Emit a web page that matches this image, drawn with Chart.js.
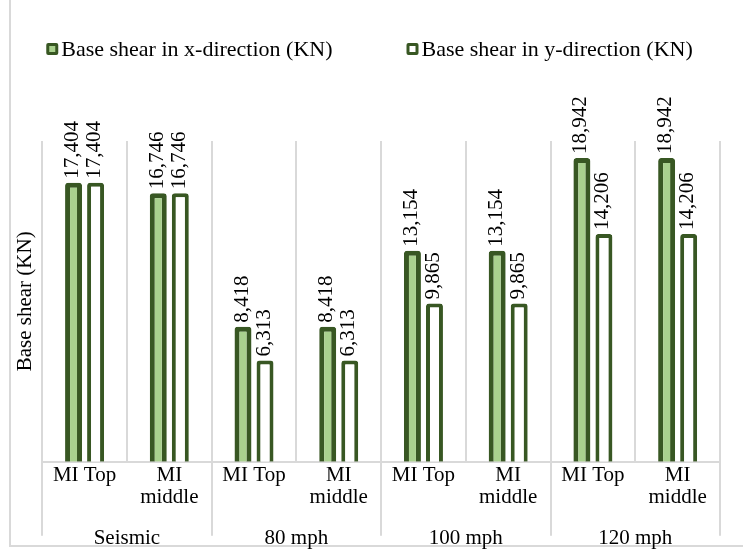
<!DOCTYPE html>
<html>
<head>
<meta charset="utf-8">
<script src="https://cdn.jsdelivr.net/npm/chart.js@4.4.1/dist/chart.umd.min.js"></script>
<style>
	html,body{margin:0;padding:0;background:#fff;}
	#wrap{position:relative;width:743px;height:549px;overflow:hidden;}
	#frame{position:absolute;left:9px;top:-4px;width:800px;height:549px;border-left:2px solid #d9d9d9;border-bottom:2px solid #d9d9d9;}
	canvas{position:absolute;left:0;top:0;}
</style>
</head>
<body>
<div id="wrap">
	<div id="frame"></div>
	<canvas id="chart" width="743" height="549"></canvas>
</div>
<script>
	// data
	var subLabels = ["MI Top", ["MI", "middle"], "MI Top", ["MI", "middle"], "MI Top", ["MI", "middle"], "MI Top", ["MI", "middle"]];
	var groupLabels = ["Seismic", "80 mph", "100 mph", "120 mph"];
	var shearX = [17404, 16746, 8418, 8418, 13154, 13154, 18942, 18942];
	var shearY = [17404, 16746, 6313, 6313, 9865, 9865, 14206, 14206];
	var seriesNames = ["Base shear in x-direction (KN)", "Base shear in y-direction (KN)"];

	var darkGreen = "#385723";
	var lightGreen = "#a9d18e";
	var gridGray = "#d9d9d9";
	var serif = "'Liberation Serif', 'Times New Roman', serif";

	Chart.defaults.font.family = serif;
	Chart.defaults.color = "#000";

	// rotated value labels above the bars
	var valueLabels = {
		id: "valueLabels",
		afterDatasetsDraw: function(chart){
			var ctx = chart.ctx;
			ctx.save();
			ctx.font = "21px " + serif;
			ctx.fillStyle = "#000";
			ctx.textAlign = "left";
			ctx.textBaseline = "middle";
			chart.data.datasets.forEach(function(ds, i){
				chart.getDatasetMeta(i).data.forEach(function(bar, j){
					ctx.save();
					ctx.translate(bar.x - 1, bar.y - 4);
					ctx.rotate(-Math.PI / 2);
					ctx.fillText(ds.data[j].toLocaleString("en-US"), 0, 0);
					ctx.restore();
				});
			});
			ctx.restore();
		}
	};

	// long dividers between the groups under the axis
	var groupLines = {
		id: "groupLines",
		afterDraw: function(chart){
			var xs = chart.scales.x;
			var ctx = chart.ctx;
			var bottom = chart.chartArea.bottom + 74;
			ctx.save();
			ctx.strokeStyle = gridGray;
			ctx.lineWidth = 2;
			for(var i = 0; i <= subLabels.length; i += 2){
				var px = Math.round(xs.getPixelForValue(i - 0.5));
				ctx.beginPath();
				ctx.moveTo(px, chart.chartArea.bottom);
				ctx.lineTo(px, bottom);
				ctx.stroke();
			}
			ctx.restore();
		}
	};

	// legend with small square markers
	var topLegend = {
		id: "topLegend",
		afterDraw: function(chart){
			var ctx = chart.ctx;
			var ds = chart.data.datasets;
			var box = 12, gap = 3, itemGap = 74, y = 49;
			ctx.save();
			ctx.font = "22px " + serif;
			ctx.textBaseline = "middle";
			var widths = ds.map(function(d){ return box + gap + ctx.measureText(d.label).width; });
			var x = (chart.width - (widths[0] + itemGap + widths[1])) / 2 - 2;
			ds.forEach(function(d, i){
				ctx.fillStyle = darkGreen;
				ctx.beginPath();
				ctx.roundRect(x, y - box / 2, box, box, 2);
				ctx.fill();
				ctx.fillStyle = d.backgroundColor;
				ctx.fillRect(x + 3, y - box / 2 + 3, box - 6, box - 6);
				ctx.fillStyle = "#000";
				ctx.fillText(d.label, x + box + gap, y + 1);
				x += widths[i] + itemGap;
			});
			ctx.restore();
		}
	};

	new Chart(document.getElementById("chart"), {
		type: "bar",
		data: {
			labels: subLabels,
			datasets: [{
				label: seriesNames[0],
				data: shearX,
				backgroundColor: lightGreen,
				borderColor: darkGreen,
				borderWidth: 5,
				borderRadius: 3
			},{
				label: seriesNames[1],
				data: shearY,
				backgroundColor: "#ffffff",
				borderColor: darkGreen,
				borderWidth: 4,
				borderRadius: 3
			}]
		},
		options: {
			responsive: false,
			animation: false,
			devicePixelRatio: 1,
			categoryPercentage: 0.52,
			barPercentage: 0.77,
			layout: {padding: {top: 141, left: 9, right: 23, bottom: -16}},
			plugins: {
				legend: {display: false},
				tooltip: {enabled: false}
			},
			scales: {
				x: {
					type: "category",
					position: "bottom",
					grid: {offset: true, color: gridGray, lineWidth: 2, drawTicks: false},
					border: {color: gridGray, width: 2},
					ticks: {font: {size: 21, lineHeight: 1.05}, padding: 3, maxRotation: 0, autoSkip: false}
				},
				x2: {
					type: "category",
					position: "bottom",
					labels: groupLabels,
					offset: true,
					grid: {display: false, drawTicks: false},
					border: {display: false},
					ticks: {font: {size: 21}, padding: 14, maxRotation: 0}
				},
				y: {
					min: 0,
					max: 20000,
					grid: {display: false, drawTicks: false},
					border: {display: false},
					ticks: {display: false},
					title: {display: true, text: "Base shear (KN)", font: {size: 21}}
				}
			}
		},
		plugins: [valueLabels, groupLines, topLegend]
	});
</script>
</body>
</html>
